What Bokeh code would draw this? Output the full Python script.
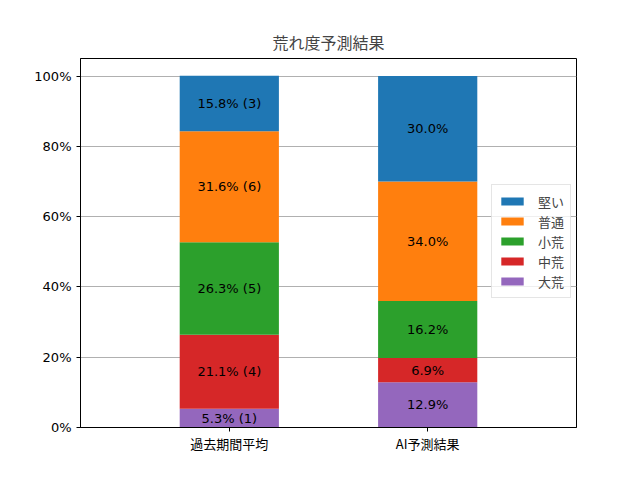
from bokeh.plotting import figure
from bokeh.models import (ColumnDataSource, FixedTicker, Legend, LegendItem,
                          Range1d, CustomJSTickFormatter)
from bokeh.embed import file_html
from bokeh.resources import INLINE
from bokeh.core.properties import value

groups = ["過去期間平均", "AI予測結果"]
levels = ["大荒", "中荒", "小荒", "普通", "堅い"]  # bottom to top
colors = ["#9467bd", "#d62728", "#2ca02c", "#ff7f0e", "#1f77b4"]
past_pct = [5.3, 21.1, 26.3, 31.6, 15.8]
past_cnt = [1, 4, 5, 6, 3]
ai_pct = [12.9, 6.9, 16.2, 34.0, 30.0]
yticks = [0, 20, 40, 60, 80, 100]

JP = "Noto Sans CJK JP"
NUM = "DejaVu Sans"

xs = [0, 1]
data = {"x": xs}
for i, lv in enumerate(levels):
    data[lv] = [past_pct[i], ai_pct[i]]
src = ColumnDataSource(data)

p = figure(width=624, height=464, output_backend="svg", toolbar_location=None,
           x_range=Range1d(-0.75, 1.75), y_range=Range1d(0, 105),
           min_border_left=80, min_border_right=48, min_border_top=58,
           min_border_bottom=37, title="荒れ度予測結果")
p.title.align = "center"
p.title.text_font = JP
p.title.text_font_size = "16px"
p.title.text_font_style = "normal"
p.title.offset = 0

rs = p.vbar_stack(levels, x="x", width=0.5, color=colors, source=src,
                  line_color=None)

# labels
lx, ly, lt = [], [], []
for gi, (pcts, cnts) in enumerate([(past_pct, past_cnt), (ai_pct, None)]):
    base = 0.0
    for i, v in enumerate(pcts):
        lx.append(xs[gi])
        ly.append(base + v / 2)
        lt.append(f"{v:.1f}% ({cnts[i]})" if cnts else f"{v:.1f}%")
        base += v
p.text(x=lx, y=ly, text=lt, text_align="center", text_baseline="middle",
       text_font=value(NUM), text_font_size="13px", text_color="black")

p.xaxis.ticker = FixedTicker(ticks=xs)
p.xaxis.major_label_overrides = {0: groups[0], 1: groups[1]}
p.yaxis.ticker = FixedTicker(ticks=yticks)
p.yaxis.formatter = CustomJSTickFormatter(code="return tick.toFixed(0) + '%';")
p.xaxis.major_label_text_font = JP
p.yaxis.major_label_text_font = NUM
p.xaxis.major_label_standoff = 2
for ax in (p.xaxis, p.yaxis):
    ax.major_label_text_font_size = "13px"
    ax.major_label_text_color = "black"
    ax.minor_tick_line_color = None
    ax.major_tick_out = 4
    ax.major_tick_in = 0
    ax.axis_line_color = "black"
    ax.major_tick_line_color = "black"
p.xgrid.grid_line_color = None
p.ygrid.grid_line_color = "#b0b0b0"
p.ygrid.grid_line_alpha = 1.0
p.outline_line_color = "black"
p.outline_line_alpha = 1.0
p.background_fill_color = "white"
p.border_fill_color = "white"

items = [LegendItem(label=levels[i], renderers=[rs[i]]) for i in reversed(range(len(levels)))]
leg = Legend(items=items, location=(411, 129))
leg.label_text_font = JP
leg.label_text_font_size = "13px"
leg.glyph_width = 28
leg.glyph_height = 10
leg.label_height = 20
leg.label_standoff = 12
leg.spacing = 0
leg.padding = 6
leg.margin = 0
leg.border_line_color = "#cccccc"
leg.background_fill_alpha = 0.8
p.add_layout(leg)

open("out.html", "w").write(file_html(p, INLINE))
